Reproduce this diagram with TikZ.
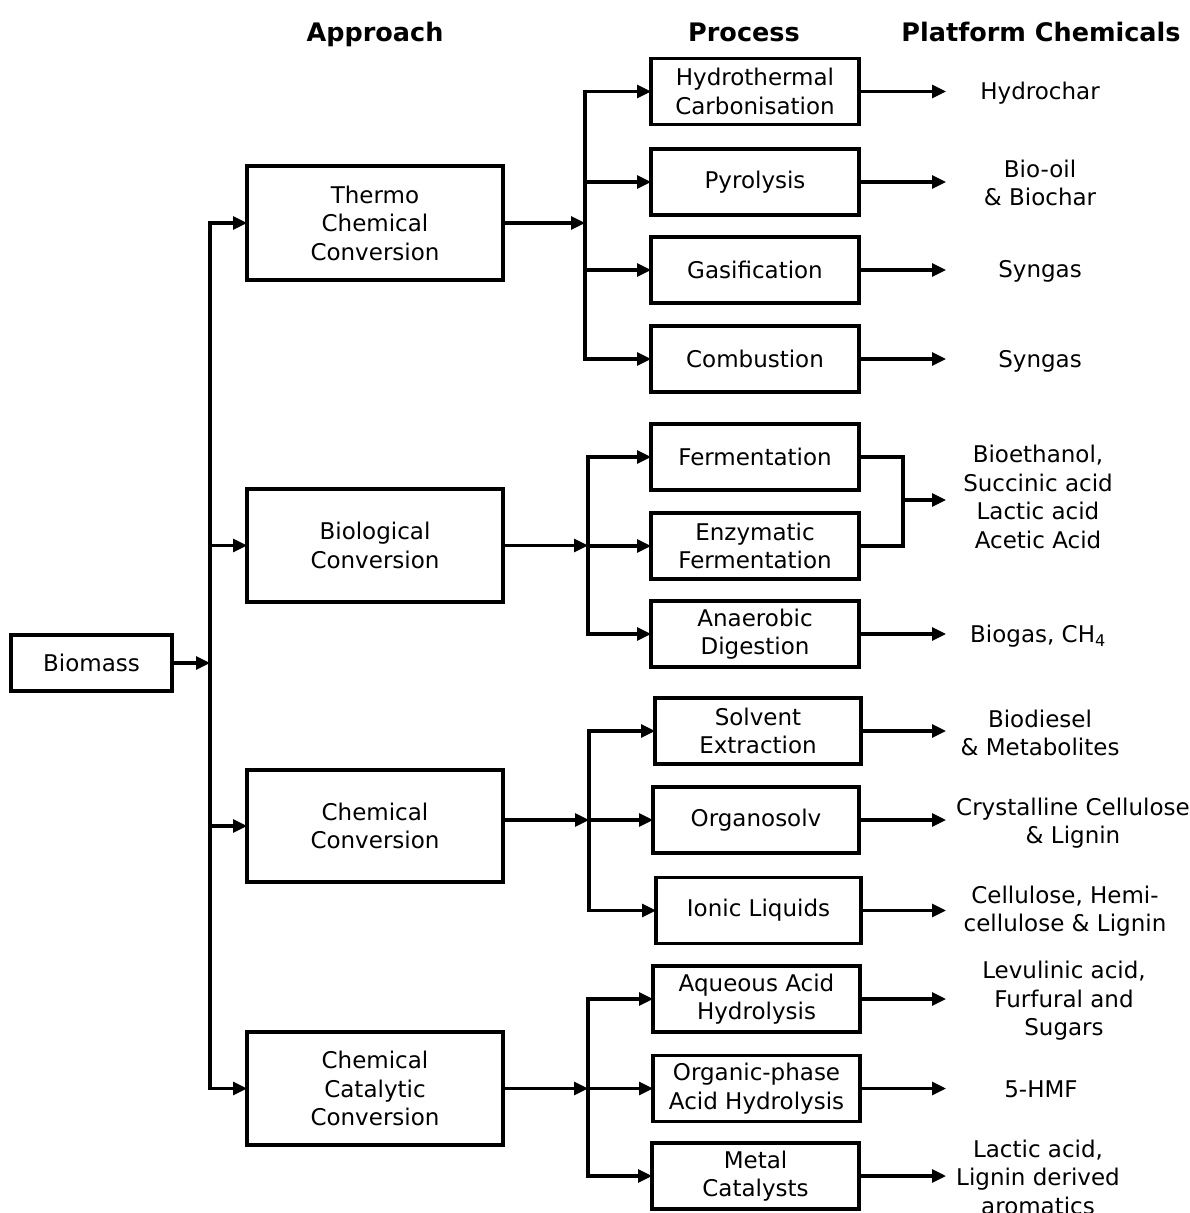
\documentclass[tikz,border=0pt]{standalone}
\usepackage{fontspec}
\setmainfont{DejaVu Sans}
\usetikzlibrary{arrows.meta,calc}
\begin{document}
\begin{tikzpicture}[x=1pt,y=-1pt,
  every node/.style={inner sep=0pt,outer sep=0pt},
  txt/.style={font=\fontsize{23}{28.5}\selectfont,align=center},
  hdr/.style={font=\fontsize{25.5}{30}\selectfont\bfseries,anchor=base},
  box/.style={txt,draw,line width=3.3pt},
  abox/.style={box,minimum width=256pt,minimum height=113pt},
  pbox/.style={box,minimum width=208pt,minimum height=66pt},
  ln/.style={line width=3.1pt,line cap=rect},
  arr/.style={line width=3.1pt,-{Triangle[length=14pt,width=13pt]}}]
\useasboundingbox (0,0) rectangle (1190,1213);
% headers
\node[hdr] (h1) at (375,41) {Approach};
\node[hdr] (h2) at (744,41) {Process};
\node[hdr] (h3) at (1041,41) {Platform Chemicals};
% biomass
\node[box,minimum width=161pt,minimum height=56pt] (bio) at (91.5,663) {Biomass};
% approach boxes
\node[abox,minimum height=114pt] (thermo) at (375,223) {Thermo\\Chemical\\Conversion};
\node[abox] (biol) at (375,545.5) {Biological\\Conversion};
\node[abox,minimum height=112pt] (chem) at (375,826) {Chemical\\Conversion};
\node[abox] (cat) at (375,1088.5) {Chemical\\Catalytic\\Conversion};
% process boxes
\node[pbox] (htc) at (755,91.5) {Hydrothermal\\Carbonisation};
\node[pbox] (pyr) at (755,182) {Pyrolysis};
\node[pbox] (gas) at (755,270) {Gasification};
\node[pbox] (comb) at (755,359) {Combustion};
\node[pbox] (ferm) at (755,457) {Fermentation};
\node[pbox] (enz) at (755,546) {Enzymatic\\Fermentation};
\node[pbox] (anae) at (755,634) {Anaerobic\\Digestion};
\node[pbox,minimum width=206pt] (solv) at (758,731) {Solvent\\Extraction};
\node[pbox,minimum width=206pt] (org) at (756,820) {Organosolv};
\node[pbox,minimum width=205pt] (ionic) at (758.5,910.5) {Ionic Liquids};
\node[pbox,minimum width=207pt] (aq) at (756.5,999) {Aqueous Acid\\Hydrolysis};
\node[pbox,minimum width=207pt] (orgp) at (756.5,1088.5) {Organic-phase\\Acid Hydrolysis};
\node[pbox,minimum width=207pt] (metal) at (755.5,1176) {Metal\\Catalysts};
% products
\node[txt] (p1) at (1040,93) {Hydrochar};
\node[txt] (p2) at (1040,183) {Bio-oil\\\& Biochar};
\node[txt] (p3) at (1040,271) {Syngas};
\node[txt] (p4) at (1040,361) {Syngas};
\node[txt] (p5) at (1038,497) {Bioethanol,\\Succinic acid\\Lactic acid\\Acetic Acid};
\node[txt] (p6) at (1038,636) {Biogas, CH\textsubscript{4}};
\node[txt] (p7) at (1040,733) {Biodiesel\\\& Metabolites};
\node[txt] (p8) at (1073,823) {Crystalline Cellulose\\\& Lignin};
\node[txt] (p9) at (1065,911) {Cellulose, Hemi-\\cellulose \& Lignin};
\node[txt] (p10) at (1064,1001) {Levulinic acid,\\Furfural and\\Sugars};
\node[txt] (p11) at (1041,1089) {5-HMF};
\node[txt] (p12) at (1038,1177) {Lactic acid,\\Lignin derived\\aromatics};
% reference x positions
\coordinate (t0) at (210,663);
\coordinate (s1) at (585,0);
\coordinate (s2) at (588,0);
\coordinate (s3) at (589,0);
\coordinate (s4) at (588,0);
\coordinate (o1) at (946,0);
\coordinate (m) at (903,500);
% biomass to approaches
\draw[arr] (bio.east) -- (t0);
\draw[ln] (thermo.west -| t0) -- (cat.west -| t0);
\foreach \n in {thermo,biol,chem,cat}
  \draw[arr] (\n.west -| t0) -- (\n.west);
% thermo chemical
\draw[arr] (thermo.east) -- (thermo.east -| s1);
\draw[ln] (htc.west -| s1) -- (comb.west -| s1);
\foreach \n in {htc,pyr,gas,comb}
  \draw[arr] (\n.west -| s1) -- (\n.west);
% biological
\draw[arr] (biol.east) -- (biol.east -| s2);
\draw[ln] (ferm.west -| s2) -- (anae.west -| s2);
\foreach \n in {ferm,enz,anae}
  \draw[arr] (\n.west -| s2) -- (\n.west);
% chemical
\draw[arr] (chem.east |- org.west) -- (org.west -| s3);
\draw[ln] (solv.west -| s3) -- (ionic.west -| s3);
\foreach \n in {solv,org,ionic}
  \draw[arr] (\n.west -| s3) -- (\n.west);
% catalytic
\draw[arr] (cat.east) -- (cat.east -| s4);
\draw[ln] (aq.west -| s4) -- (metal.west -| s4);
\foreach \n in {aq,orgp,metal}
  \draw[arr] (\n.west -| s4) -- (\n.west);
% outputs
\foreach \n in {htc,pyr,gas,comb,anae,solv,org,ionic,aq,orgp,metal}
  \draw[arr] (\n.east) -- (\n.east -| o1);
\draw[ln,line cap=butt,line join=miter] (ferm.east) -- (ferm.east -| m) -- (enz.east -| m) -- (enz.east);
\draw[arr] (m) -- (m -| o1);
\end{tikzpicture}
\end{document}
